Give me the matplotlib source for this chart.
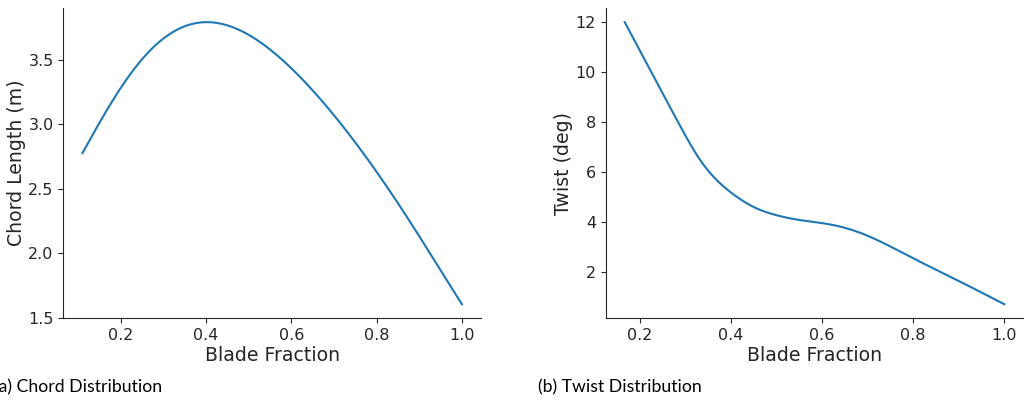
import numpy as np
import matplotlib
matplotlib.use("Agg")
import matplotlib.pyplot as plt

# Chord distribution along the blade
frac_chord = [0.1105, 0.152, 0.199, 0.269, 0.316, 0.386, 0.472, 0.550,
              0.6047, 0.683, 0.761, 0.839, 0.917, 1.000]
chord = [2.778, 3.030, 3.262, 3.571, 3.725, 3.796, 3.712, 3.583,
         3.441, 3.146, 2.799, 2.438, 2.052, 1.603]

# Twist distribution along the blade
frac_twist = [0.1665, 0.2235, 0.282, 0.333, 0.377, 0.4135, 0.450, 0.501, 0.552,
              0.596, 0.625, 0.684, 0.713, 0.8005, 0.903, 1.000]
twist = [11.99, 10.04, 8.05, 6.46, 5.53, 5.00, 4.60, 4.27, 4.08,
         3.97, 3.88, 3.57, 3.35, 2.55, 1.62, 0.72]

ink = "#262626"
plt.rcParams["font.family"] = "DejaVu Sans"
plt.rcParams["xtick.color"] = ink
plt.rcParams["ytick.color"] = ink
plt.rcParams["axes.edgecolor"] = ink
plt.rcParams["axes.labelcolor"] = ink


def spline(x, y, n=400):
    # spline cúbica natural pelos pontos
    x = np.asarray(x, float)
    y = np.asarray(y, float)
    k = len(x)
    h = np.diff(x)
    A = np.zeros((k, k))
    r = np.zeros(k)
    A[0, 0] = A[-1, -1] = 1.0
    for i in range(1, k - 1):
        A[i, i - 1] = h[i - 1]
        A[i, i] = 2 * (h[i - 1] + h[i])
        A[i, i + 1] = h[i]
        r[i] = 3 * ((y[i + 1] - y[i]) / h[i] - (y[i] - y[i - 1]) / h[i - 1])
    c = np.linalg.solve(A, r)
    b = (y[1:] - y[:-1]) / h - h * (2 * c[:-1] + c[1:]) / 3
    d = (c[1:] - c[:-1]) / (3 * h)
    xs = np.linspace(x[0], x[-1], n)
    j = np.clip(np.searchsorted(x, xs, side="right") - 1, 0, k - 2)
    t = xs - x[j]
    ys = y[j] + b[j] * t + c[j] * t ** 2 + d[j] * t ** 3
    return xs, ys


def ajuste(x, y, grau=4, n=400):
    # polinômio suave ajustado aos pontos
    p = np.polyfit(x, y, grau)
    xs = np.linspace(x[0], x[-1], n)
    return xs, np.polyval(p, xs)


fig = plt.figure(figsize=(10.27, 4.04), dpi=100)
ax1 = fig.add_axes([0.0618, 0.2121, 0.4065, 0.768])
ax2 = fig.add_axes([0.5898, 0.2121, 0.4066, 0.768])

xc, yc = ajuste(frac_chord, chord, grau=6)
ax1.plot(xc, yc, color="#1f77b4", lw=1.5)
ax1.set_xlabel("Blade Fraction", fontsize=13.6, labelpad=2)
ax1.set_ylabel("Chord Length (m)", fontsize=13.6, labelpad=1.5)
ax1.set_yticks([1.5, 2.0, 2.5, 3.0, 3.5])

xt, yt = spline(frac_twist, twist)
ax2.plot(xt, yt, color="#1f77b4", lw=1.5)
ax2.set_xlabel("Blade Fraction", fontsize=13.6, labelpad=2)
ax2.set_ylabel("Twist (deg)", fontsize=13.6, labelpad=2)
ax2.set_yticks([2, 4, 6, 8, 10, 12])

for ax in (ax1, ax2):
    ax.spines["top"].set_visible(False)
    ax.spines["right"].set_visible(False)
    ax.tick_params(labelsize=11.5, length=3.5, width=0.8)

fig.text(-0.006, 0.04, "(a) Chord Distribution", fontsize=12.7, family="Lato",
         color="black", va="center")
fig.text(538.3 / 1027, 0.04, "(b) Twist Distribution", fontsize=12.7, family="Lato",
         color="black", va="center")

fig.savefig("out.png", dpi=100)
